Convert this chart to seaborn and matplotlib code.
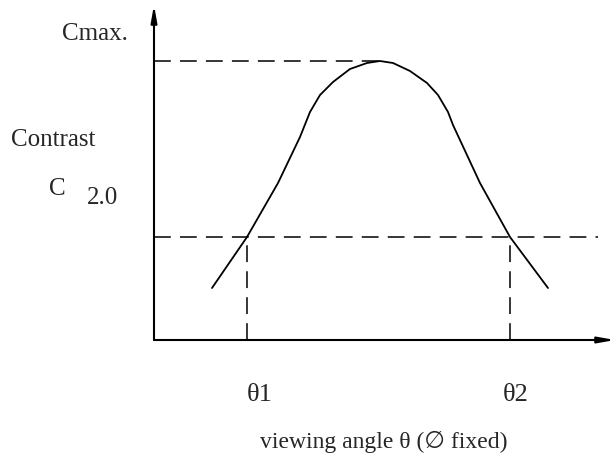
import matplotlib
matplotlib.use("Agg")
import matplotlib.pyplot as plt
import seaborn as sns
import pandas as pd

# viewing angle vs contrast curve (arbitrary units)
angle = [5.8, 9.3, 12.4, 14.6, 15.6, 16.6, 17.9, 19.6, 21.3, 22.6, 23.9, 25.6,
         27.3, 28.4, 29.4, 29.9, 32.6, 35.6, 39.4]
contrast = [5.2, 10.3, 15.7, 20.3, 22.8, 24.5, 25.8, 27.1, 27.7, 27.9, 27.7, 26.9,
            25.7, 24.5, 22.8, 21.5, 15.7, 10.3, 5.2]
c_max = 27.9
c_limit = 10.3
theta1 = 9.3
theta2 = 35.6
peak_angle = 22.6

sns.set_style("white")
plt.rcParams['font.family'] = ['Liberation Serif', 'DejaVu Serif', 'DejaVu Sans']

df = pd.DataFrame({'angle': angle, 'contrast': contrast})

fig = plt.figure(figsize=(6.16, 4.58), dpi=100)
ax = fig.add_axes([154 / 616, 118 / 458, 462 / 616, 335 / 458])
ax.set_xlim(0, 46.2)
ax.set_ylim(0, 33.5)
ax.axis('off')

sns.lineplot(data=df, x='angle', y='contrast', sort=False, color='black', lw=1.3, ax=ax)

dash = dict(color='black', lw=1.1, dashes=(11, 6))
ax.plot([0, peak_angle], [c_max, c_max], **dash)
ax.plot([0, 44.4], [c_limit, c_limit], **dash)
ax.plot([theta1, theta1], [0, c_limit], **dash)
ax.plot([theta2, theta2], [0, c_limit], **dash)

# axes with arrows
arrow = dict(arrowstyle='-|>,head_length=1.0,head_width=0.18', color='black', lw=1.5,
             shrinkA=0, shrinkB=0)
ax.annotate('', xy=(0, 33.5), xytext=(0, 0), arrowprops=arrow, annotation_clip=False)
ax.annotate('', xy=(46.1, 0), xytext=(0, 0), arrowprops=arrow, annotation_clip=False)

fs = 18
ax.text(-2.6, 30.6, 'Cmax.', ha='right', va='center', fontsize=fs, clip_on=False)
ax.text(-14.3, 20.0, 'Contrast', ha='left', va='center', fontsize=fs, clip_on=False)
ax.text(-10.5, 15.1, 'C', ha='left', va='center', fontsize=fs, clip_on=False)
ax.text(-6.7, 14.2, '2.0', ha='left', va='center', fontsize=fs, clip_on=False)
ax.text(10.6, -5.5, 'θ1', ha='center', va='center', fontsize=fs + 1, clip_on=False)
ax.text(36.2, -5.5, 'θ2', ha='center', va='center', fontsize=fs + 1, clip_on=False)
ax.text(23.0, -10.2, 'viewing angle θ (∅ fixed)', ha='center', va='center',
        fontsize=fs - 1, clip_on=False)

fig.savefig('out.png', dpi=100)
